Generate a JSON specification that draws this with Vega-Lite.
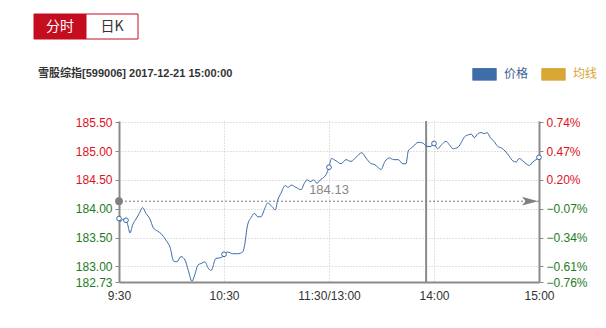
{
  "$schema": "https://vega.github.io/schema/vega-lite/v6.json",
  "background": "#ffffff",
  "padding": {"left": 33, "top": 13, "right": 5, "bottom": 5},
  "spacing": 28,
  "columns": 1,
  "config": {
    "view": {"stroke": null},
    "line": {"strokeWidth": 1},
    "font": "Liberation Sans"
  },
  "datasets": {
    "tabs": [{"tab": "分时", "on": 1}, {"tab": "日K", "on": 0}],
    "price": [
      {"t": 0, "p": 183.83}, {"t": 1, "p": 183.78}, {"t": 2.3, "p": 183.82}, {"t": 4, "p": 183.80},
      {"t": 5, "p": 183.72}, {"t": 6.3, "p": 183.58}, {"t": 7.8, "p": 183.72}, {"t": 9.7, "p": 183.82},
      {"t": 11.6, "p": 183.92}, {"t": 13.5, "p": 184.02}, {"t": 15.4, "p": 183.92}, {"t": 17.7, "p": 183.82},
      {"t": 19.6, "p": 183.67}, {"t": 22.1, "p": 183.61}, {"t": 24, "p": 183.57}, {"t": 26.9, "p": 183.45},
      {"t": 29.1, "p": 183.34}, {"t": 31.3, "p": 183.09}, {"t": 33.1, "p": 183.08}, {"t": 35.4, "p": 183.17},
      {"t": 37.7, "p": 183.11}, {"t": 39.6, "p": 182.93}, {"t": 41.7, "p": 182.74}, {"t": 43, "p": 182.83},
      {"t": 45.3, "p": 183.03}, {"t": 46.9, "p": 183.05}, {"t": 49.1, "p": 183.08}, {"t": 51, "p": 182.97},
      {"t": 52.6, "p": 182.93}, {"t": 55.4, "p": 183.14}, {"t": 58.3, "p": 183.15}, {"t": 60, "p": 183.21},
      {"t": 62.1, "p": 183.25}, {"t": 65, "p": 183.22}, {"t": 67.8, "p": 183.22}, {"t": 70.7, "p": 183.25},
      {"t": 71.6, "p": 183.34}, {"t": 73.5, "p": 183.72}, {"t": 75.8, "p": 183.86}, {"t": 77.3, "p": 183.92},
      {"t": 79.3, "p": 183.86}, {"t": 81.1, "p": 183.86}, {"t": 83, "p": 183.98}, {"t": 85, "p": 184.10},
      {"t": 87.3, "p": 184.04}, {"t": 89.3, "p": 183.98}, {"t": 90.7, "p": 184.15}, {"t": 92.6, "p": 184.27},
      {"t": 94.9, "p": 184.40}, {"t": 96.7, "p": 184.37}, {"t": 98.3, "p": 184.41}, {"t": 101.1, "p": 184.37},
      {"t": 104, "p": 184.33}, {"t": 105.9, "p": 184.44}, {"t": 107.4, "p": 184.50}, {"t": 109.3, "p": 184.47},
      {"t": 111.3, "p": 184.50}, {"t": 113.1, "p": 184.44}, {"t": 115, "p": 184.50}, {"t": 116.4, "p": 184.53},
      {"t": 118.3, "p": 184.59}, {"t": 120, "p": 184.72}, {"t": 121.4, "p": 184.87}, {"t": 124, "p": 184.83},
      {"t": 126.9, "p": 184.78}, {"t": 129.7, "p": 184.85}, {"t": 132.6, "p": 184.82}, {"t": 135.4, "p": 184.89},
      {"t": 138.7, "p": 184.97}, {"t": 141.1, "p": 184.88}, {"t": 143.6, "p": 184.79}, {"t": 146.3, "p": 184.76},
      {"t": 148.2, "p": 184.71}, {"t": 149.7, "p": 184.68}, {"t": 152, "p": 184.82}, {"t": 154.5, "p": 184.88},
      {"t": 157, "p": 184.85}, {"t": 159.6, "p": 184.85}, {"t": 162.1, "p": 184.78}, {"t": 164, "p": 184.78},
      {"t": 165.3, "p": 185.00}, {"t": 167.8, "p": 185.07}, {"t": 171, "p": 185.15}, {"t": 173.5, "p": 185.14},
      {"t": 176, "p": 185.08}, {"t": 178.3, "p": 185.08}, {"t": 180, "p": 185.13}, {"t": 182, "p": 185.04},
      {"t": 184.4, "p": 185.11}, {"t": 186.9, "p": 185.17}, {"t": 188.7, "p": 185.11}, {"t": 191, "p": 185.04},
      {"t": 193.9, "p": 185.07}, {"t": 195.8, "p": 185.16}, {"t": 197.3, "p": 185.24}, {"t": 199.6, "p": 185.28},
      {"t": 201.5, "p": 185.29}, {"t": 203, "p": 185.23}, {"t": 205, "p": 185.30}, {"t": 206.9, "p": 185.32},
      {"t": 208.7, "p": 185.30}, {"t": 210.3, "p": 185.32}, {"t": 212.2, "p": 185.23}, {"t": 214.5, "p": 185.16},
      {"t": 216.4, "p": 185.08}, {"t": 218.7, "p": 185.05}, {"t": 220.6, "p": 185.00}, {"t": 223, "p": 184.91},
      {"t": 225, "p": 184.83}, {"t": 226.9, "p": 184.81}, {"t": 228.7, "p": 184.87}, {"t": 230.7, "p": 184.83},
      {"t": 232.6, "p": 184.78}, {"t": 234.5, "p": 184.75}, {"t": 236.4, "p": 184.81}, {"t": 238.3, "p": 184.85},
      {"t": 240, "p": 184.89}
    ],
    "close": [{"p": 184.13}],
    "cursor": [{"t": 175.5}]
  },
  "concat": [
    {
      "width": 104,
      "height": 25,
      "data": {"name": "tabs"},
      "encoding": {
        "x": {"field": "tab", "type": "nominal", "sort": null, "axis": null,
              "scale": {"paddingInner": 0, "paddingOuter": 0, "range": [-85, 19]}}
      },
      "layer": [
        {
          "mark": {"type": "bar", "stroke": "#c40d1e", "strokeWidth": 1},
          "encoding": {
            "fill": {"condition": {"test": "datum.on == 1", "value": "#c40d1e"}, "value": "#ffffff"}
          }
        },
        {
          "mark": {"type": "text", "fontSize": 14, "font": "Noto Sans CJK SC"},
          "encoding": {
            "text": {"field": "tab"},
            "color": {"condition": {"test": "datum.on == 1", "value": "#ffffff"}, "value": "#333333"}
          }
        }
      ]
    },
    {
      "width": 420,
      "height": 161,
      "title": {
        "text": "雪股综指[599006] 2017-12-21 15:00:00",
        "anchor": "start", "frame": "group", "dx": -81, "offset": 37,
        "fontSize": 11, "fontWeight": "bold", "color": "#333333",
        "font": "Liberation Sans, Noto Sans CJK SC"
      },
      "resolve": {"axis": {"y": "independent"}},
      "layer": [
        {
          "data": {"name": "cursor"},
          "mark": {"type": "rule", "color": "#8a8a8a", "strokeWidth": 2},
          "encoding": {
            "x": {"field": "t", "type": "quantitative", "title": null}
          }
        },
        {
          "data": {"name": "price"},
          "mark": {"type": "line", "interpolate": "monotone"},
          "encoding": {
            "x": {
              "field": "t", "type": "quantitative", "title": null,
              "scale": {"domain": [0, 240], "nice": false, "zero": false},
              "axis": {
                "values": [0, 60, 120, 180, 240],
                "labelExpr": "datum.value == 0 ? '9:30' : datum.value == 60 ? '10:30' : datum.value == 120 ? '11:30/13:00' : datum.value == 180 ? '14:00' : '15:00'",
                "labelFlush": false, "labelOverlap": false, "labelBound": false,
                "grid": true, "gridColor": "#c4c4c4", "gridDash": [1, 2],
                "domainColor": "#8a8a8a", "domainWidth": 2, "ticks": false,
                "labelPadding": 8, "labelFontSize": 12, "labelColor": "#333333",
                "labelFont": "Liberation Sans"
              }
            },
            "y": {
              "field": "p", "type": "quantitative", "title": null,
              "scale": {"domain": [182.73, 185.52], "nice": false, "zero": false},
              "axis": {
                "orient": "left",
                "values": [182.73, 183, 183.5, 184, 184.5, 185, 185.5],
                "format": ".2f",
                "labelOverlap": false, "labelBound": false,
                "grid": true, "gridColor": "#c4c4c4", "gridDash": [1, 2],
                "domainColor": "#8a8a8a", "domainWidth": 2,
                "tickColor": "#8a8a8a", "tickSize": 4, "labelPadding": 3,
                "labelFontSize": 12, "labelFont": "Liberation Sans",
                "labelColor": {"condition": {"test": "datum.value < 184.13", "value": "#1e7b1e"}, "value": "#e0101e"}
              }
            },
            "color": {
              "datum": "价格",
              "scale": {"domain": ["价格", "均线"], "range": ["#3b6aa6", "#d6a532"]},
              "legend": {
                "title": null, "orient": "none", "legendX": 353, "legendY": 47.5,
                "direction": "horizontal", "padding": 0,
                "symbolType": "M-1,-0.479H1M-1,-0.4375H1M-1,-0.396H1M-1,-0.354H1M-1,-0.3125H1M-1,-0.271H1M-1,-0.229H1M-1,-0.1875H1M-1,-0.146H1M-1,-0.104H1M-1,-0.0625H1M-1,-0.021H1M-1,0.021H1M-1,0.0625H1M-1,0.104H1M-1,0.146H1M-1,0.1875H1M-1,0.229H1M-1,0.271H1M-1,0.3125H1M-1,0.354H1M-1,0.396H1M-1,0.4375H1M-1,0.479H1",
                "symbolSize": 576,
                "labelFontSize": 12, "labelFont": "Noto Sans CJK SC", "labelOffset": 7,
                "columnPadding": 10,
                "labelColor": {"expr": "datum.label == '价格' ? '#3d5f94' : '#d6a532'"}
              }
            }
          }
        },
        {
          "data": {"name": "price"},
          "transform": [{"filter": {"field": "t", "oneOf": [0, 4, 60, 120, 180, 240]}}],
          "mark": {"type": "point", "filled": true, "fill": "#ffffff", "stroke": "#3b6aa6", "strokeWidth": 1, "size": 22, "opacity": 1},
          "encoding": {
            "x": {"field": "t", "type": "quantitative", "title": null},
            "y": {"field": "p", "type": "quantitative", "title": null, "axis": null}
          }
        },
        {
          "data": {"name": "close"},
          "mark": {"type": "rule", "color": "#7a7a7a", "strokeWidth": 1, "strokeDash": [2, 2]},
          "encoding": {
            "y": {
              "field": "p", "type": "quantitative", "title": null,
              "axis": {
                "orient": "right",
                "values": [182.73, 183, 183.5, 184, 184.5, 185, 185.5],
                "labelExpr": "format((datum.value - 184.13) / 184.13 * 100, '.2f') + '%'",
                "labelOverlap": false, "labelBound": false, "grid": false,
                "domainColor": "#8a8a8a", "domainWidth": 2,
                "tickColor": "#8a8a8a", "tickSize": 4, "labelPadding": 3,
                "labelFontSize": 12, "labelFont": "Liberation Sans",
                "labelColor": {"condition": {"test": "datum.value < 184.13", "value": "#1e7b1e"}, "value": "#e0101e"}
              }
            }
          }
        },
        {
          "data": {"name": "close"},
          "mark": {"type": "point", "filled": true, "color": "#808080", "size": 60, "opacity": 1},
          "encoding": {
            "x": {"datum": 0, "type": "quantitative"},
            "y": {"field": "p", "type": "quantitative", "title": null, "axis": null}
          }
        },
        {
          "data": {"name": "close"},
          "mark": {"type": "point", "filled": true, "color": "#808080", "size": 256, "opacity": 1,
                   "shape": "M-1,-0.55L1,0L-1,0.55L-0.55,0Z", "xOffset": -9},
          "encoding": {
            "x": {"datum": 240, "type": "quantitative"},
            "y": {"field": "p", "type": "quantitative", "title": null, "axis": null}
          }
        },
        {
          "data": {"name": "close"},
          "mark": {"type": "text", "color": "#888888", "fontSize": 13, "dy": -11, "align": "center", "font": "Liberation Sans"},
          "encoding": {
            "x": {"datum": 120, "type": "quantitative"},
            "y": {"field": "p", "type": "quantitative", "title": null, "axis": null},
            "text": {"field": "p", "type": "quantitative", "format": ".2f"}
          }
        }
      ]
    }
  ]
}
